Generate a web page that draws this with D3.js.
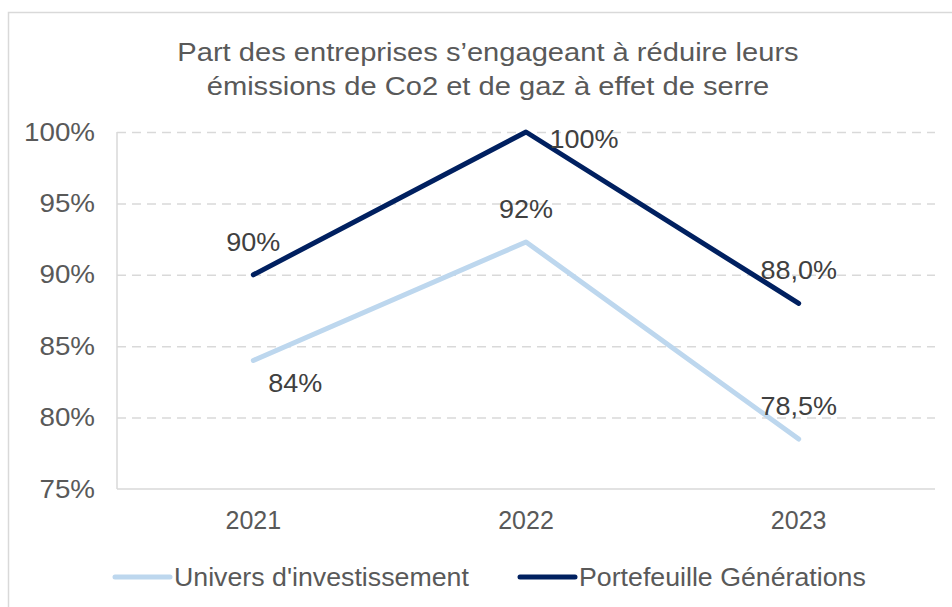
<!DOCTYPE html>
<html>
<head>
<meta charset="utf-8">
<script src="https://cdn.jsdelivr.net/npm/d3@7"></script>
<style>
  body { margin: 0; background: #fff; }
  svg text { font-family: "Liberation Sans", Arial, sans-serif; }
</style>
</head>
<body>
<div id="chart"></div>
<script>
const years = ["2021", "2022", "2023"];
const univers = [84, 92.3, 78.5];
const portefeuille = [90, 100, 88];
const universLabels = ["84%", "92%", "78,5%"];
const portefeuilleLabels = ["90%", "100%", "88,0%"];
const yTicks = [75, 80, 85, 90, 95, 100];
const titleLines = ["Part des entreprises s\u2019engageant à réduire leurs", "émissions de Co2 et de gaz à effet de serre"];
const seriesNames = ["Univers d'investissement", "Portefeuille Générations"];

const W = 952, H = 607;
const margin = {top: 132, right: 17, bottom: 118, left: 117};
const width = W - margin.left - margin.right,
      height = H - margin.top - margin.bottom;

// the source font is a bit wider than Liberation Sans, stretch text sideways
function stretch(sel, k) {
  sel.each(function() {
    const t = d3.select(this);
    const x0 = +t.attr("x") || 0;
    t.attr("transform", `translate(${x0},0) scale(${k},1) translate(${-x0},0)`);
  });
}

const svg = d3.select("#chart").append("svg")
  .attr("width", W).attr("height", H);

// outer frame
svg.append("rect")
  .attr("x", 8.5).attr("y", 12.5)
  .attr("width", 980).attr("height", 640)
  .style("fill", "none").style("stroke", "#d9d9d9").style("stroke-width", 1.5);

// title
svg.append("g").selectAll("text").data(titleLines).enter().append("text")
  .attr("text-anchor", "middle")
  .attr("x", 488).attr("y", (d, i) => 61 + i * 34)
  .style("font-size", "26px").style("fill", "#595959")
  .text(d => d)
  .call(stretch, 1.12);

const g = svg.append("g")
  .attr("transform", `translate(${margin.left}, ${margin.top})`);

const x = d3.scaleBand().domain(years).range([0, width]);
const y = d3.scaleLinear().domain([75, 100]).range([height, 0]);

// grid lines
g.append("g")
  .call(d3.axisLeft(y).tickValues(yTicks.filter(t => t > 75)).tickSize(-width).tickFormat(""))
  .call(s => s.select(".domain").remove())
  .selectAll(".tick line")
    .attr("stroke", "#d9d9d9").attr("stroke-width", 1.5).attr("stroke-dasharray", "9,6");

// axis lines
g.append("line").attr("x1", 0).attr("x2", 0).attr("y1", 0).attr("y2", height)
  .attr("stroke", "#d9d9d9").attr("stroke-width", 1.5);
g.append("line").attr("x1", 0).attr("x2", width).attr("y1", height).attr("y2", height)
  .attr("stroke", "#d9d9d9").attr("stroke-width", 1.5);

// y tick labels
g.append("g")
  .call(d3.axisLeft(y).tickValues(yTicks).tickSize(0).tickPadding(22).tickFormat(d => d + "%"))
  .call(s => s.select(".domain").remove())
  .selectAll("text")
    .style("font-size", "25px").style("fill", "#595959").style("font-family", "Liberation Sans, Arial, sans-serif")
    .call(stretch, 1.11);

// x tick labels
g.append("g")
  .attr("transform", `translate(0, ${height})`)
  .call(d3.axisBottom(x).tickSize(0).tickPadding(22))
  .call(s => s.select(".domain").remove())
  .selectAll("text")
    .style("font-size", "25px").style("fill", "#595959").style("font-family", "Liberation Sans, Arial, sans-serif");

const line = d3.line()
  .x((d, i) => x(years[i]) + x.bandwidth() / 2)
  .y(d => y(d));

g.append("path").datum(univers)
  .attr("d", line).style("fill", "none")
  .style("stroke", "#bdd7ee").style("stroke-width", 5)
  .style("stroke-linecap", "round").style("stroke-linejoin", "round");

g.append("path").datum(portefeuille)
  .attr("d", line).style("fill", "none")
  .style("stroke", "#002060").style("stroke-width", 5)
  .style("stroke-linecap", "round").style("stroke-linejoin", "round");

// data labels
const uOff = [[42, 32], [0, -24], [0, -24]];
const pOff = [[0, -24], [58, 16], [0, -24]];
g.append("g").selectAll("text").data(univers).enter().append("text")
  .attr("text-anchor", "middle")
  .attr("x", (d, i) => x(years[i]) + x.bandwidth() / 2 + uOff[i][0])
  .attr("y", (d, i) => y(d) + uOff[i][1])
  .style("font-size", "25px").style("fill", "#404040")
  .text((d, i) => universLabels[i])
  .call(stretch, 1.08);
g.append("g").selectAll("text").data(portefeuille).enter().append("text")
  .attr("text-anchor", "middle")
  .attr("x", (d, i) => x(years[i]) + x.bandwidth() / 2 + pOff[i][0])
  .attr("y", (d, i) => y(d) + pOff[i][1])
  .style("font-size", "25px").style("fill", "#404040")
  .text((d, i) => portefeuilleLabels[i])
  .call(stretch, 1.08);

// legend
const legend = svg.append("g").attr("transform", "translate(115, 577)");
const lx = [0, 405];
const lcol = ["#bdd7ee", "#002060"];
seriesNames.forEach((name, i) => {
  legend.append("line")
    .attr("x1", lx[i]).attr("x2", lx[i] + 55).attr("y1", 0).attr("y2", 0)
    .style("stroke", lcol[i]).style("stroke-width", 5).style("stroke-linecap", "round");
  legend.append("text")
    .attr("x", lx[i] + 59).attr("y", 9)
    .style("font-size", "25px").style("fill", "#595959")
    .text(name)
    .call(stretch, 1.07);
});
</script>
</body>
</html>
